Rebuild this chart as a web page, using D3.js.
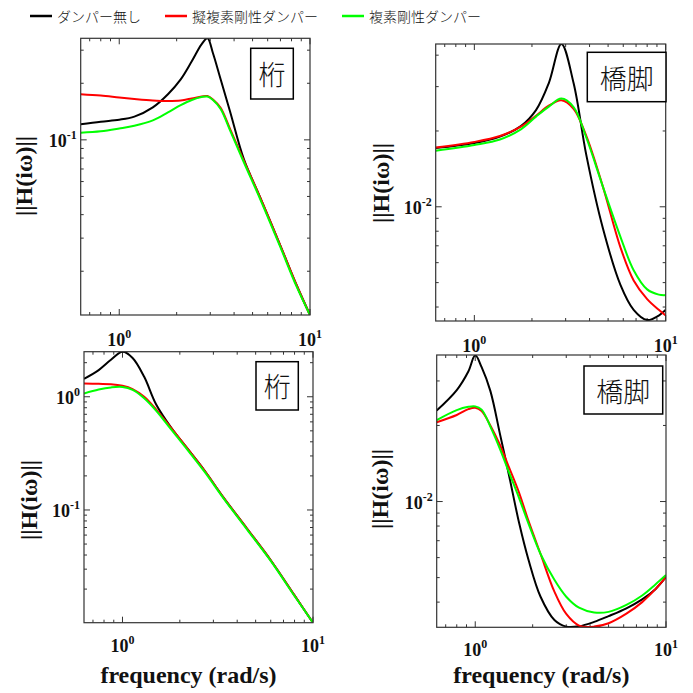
<!DOCTYPE html>
<html>
<head>
<meta charset="utf-8">
<script src="https://cdn.jsdelivr.net/npm/d3@7"></script>
<style>
body { margin: 0; background: #fff; }
svg { display: block; }
.tick-label { font-family: "Liberation Serif", "Times New Roman", serif; font-weight: bold; font-size: 18px; fill: #111; }
.axis-title { font-family: "Liberation Serif", "Times New Roman", serif; font-weight: bold; font-size: 24px; fill: #111; }
.legend-text { font-family: "Noto Sans CJK JP", sans-serif; font-weight: 300; font-size: 14px; fill: #111; }
.tag { font-family: "Noto Sans CJK JP", sans-serif; font-weight: 300; font-size: 27px; fill: #111; }
</style>
</head>
<body>
<svg id="chart" width="693" height="693"></svg>
<script>
// legend
var seriesNames = ["ダンパー無し", "擬複素剛性ダンパー", "複素剛性ダンパー"];
var seriesColors = ["#000000", "#ff0000", "#00ff00"];

// top left : 桁
var freqTL = [0.628, 0.8, 1.0, 1.2, 1.5, 1.8, 2.1, 2.4, 2.7, 2.9, 3.1, 3.4, 3.8, 4.5, 5.5, 7, 8.5, 10];
var tlBlack = [0.121, 0.125, 0.128, 0.133, 0.149, 0.175, 0.210, 0.262, 0.322, 0.347, 0.289, 0.21, 0.143, 0.079, 0.049, 0.0273, 0.0169, 0.0117];
var tlRed = [0.175, 0.172, 0.168, 0.165, 0.162, 0.161, 0.162, 0.166, 0.170, 0.171, 0.164, 0.148, 0.115, 0.0774, 0.0489, 0.0273, 0.0169, 0.0117];
var tlGreen = [0.109, 0.111, 0.115, 0.119, 0.127, 0.140, 0.153, 0.163, 0.169, 0.170, 0.163, 0.146, 0.113, 0.076, 0.048, 0.0268, 0.0166, 0.0117];

// top right : 橋脚
var freqTR = [0.628, 1.0, 1.36, 1.75, 2.1, 2.45, 2.85, 3.3, 3.85, 4.7, 5.8, 6.8, 8.0, 9.2, 10];
var trBlack = [0.0171, 0.0179, 0.0190, 0.0209, 0.0242, 0.031, 0.0443, 0.031, 0.016, 0.0082, 0.0049, 0.0039, 0.00355, 0.0037, 0.0039];
var trRed = [0.0172, 0.0181, 0.0191, 0.0208, 0.0230, 0.0252, 0.0265, 0.0245, 0.0191, 0.0120, 0.0069, 0.0051, 0.0043, 0.0039, 0.0037];
var trGreen = [0.0167, 0.0176, 0.0185, 0.0203, 0.0228, 0.0250, 0.0269, 0.0249, 0.0188, 0.0120, 0.0076, 0.0056, 0.0047, 0.00448, 0.00446];

// bottom left : 桁
var freqBL = [0.628, 0.75, 0.87, 1.0, 1.13, 1.3, 1.5, 1.8, 2.2, 2.7, 3.4, 4.5, 6, 8, 10];
var blBlack = [1.44, 1.72, 2.12, 2.5, 2.2, 1.5, 0.86, 0.535, 0.346, 0.222, 0.128, 0.0686, 0.036, 0.0176, 0.0101];
var blRed = [1.31, 1.30, 1.29, 1.25, 1.17, 1.0, 0.775, 0.53, 0.346, 0.222, 0.128, 0.0686, 0.036, 0.0176, 0.0101];
var blGreen = [1.07, 1.16, 1.21, 1.22, 1.15, 0.97, 0.755, 0.515, 0.338, 0.217, 0.126, 0.0675, 0.0355, 0.0174, 0.0101];

// bottom right : 橋脚
var freqBR = [0.628, 0.8, 0.92, 1.0, 1.08, 1.2, 1.35, 1.5, 1.7, 1.9, 2.2, 2.6, 3.0, 3.5, 4.2, 5.0, 6.2, 7.5, 8.8, 10];
var brBlack = [0.0229, 0.0276, 0.0327, 0.0379, 0.034, 0.0274, 0.0184, 0.0128, 0.0082, 0.0059, 0.0042, 0.0034, 0.0032, 0.00321, 0.00334, 0.00352, 0.00378, 0.0041, 0.0045, 0.00503];
var brRed = [0.0206, 0.0220, 0.0232, 0.0235, 0.0228, 0.0200, 0.0167, 0.0137, 0.0108, 0.0084, 0.0062, 0.0044, 0.00359, 0.00323, 0.0032, 0.0033, 0.0036, 0.0040, 0.0045, 0.00503];
var brGreen = [0.0210, 0.0230, 0.0237, 0.0238, 0.0231, 0.0198, 0.0161, 0.0131, 0.0103, 0.0082, 0.0062, 0.0049, 0.0042, 0.0038, 0.00364, 0.00366, 0.0039, 0.00425, 0.0047, 0.00512];

var xDomain = [0.628, 10];
var xTitle = "frequency (rad/s)";
var yTitle = "||H(iω)||";

var svg = d3.select("#chart");

var panels = [
	{ freq: freqTL, ys: [tlBlack, tlRed, tlGreen], yDomain: [0.0117, 0.347], tag: "桁",
	  l: 80.7, r: 310, t: 38.3, b: 315, tagBox: [250.7, 48.3, 42.6, 50.7], yTitleAt: [25, 176], xTitle: false },
	{ freq: freqTR, ys: [trBlack, trRed, trGreen], yDomain: [0.00352, 0.0443], tag: "橋脚",
	  l: 435.7, r: 665.7, t: 44, b: 321, tagBox: [587.3, 52.3, 78.7, 49.4], yTitleAt: [382, 183], xTitle: false },
	{ freq: freqBL, ys: [blBlack, blRed, blGreen], yDomain: [0.0101, 2.5], tag: "桁",
	  l: 84, r: 313, t: 351.7, b: 622.7, tagBox: [256, 361.7, 42.3, 48.3], yTitleAt: [30, 500], xTitle: true },
	{ freq: freqBR, ys: [brBlack, brRed, brGreen], yDomain: [0.00318, 0.038], tag: "橋脚",
	  l: 436.7, r: 666, t: 355, b: 627.3, tagBox: [584, 366, 78.7, 48], yTitleAt: [381, 489], xTitle: true }
];

function isMajor(v) {
	var e = Math.log10(v);
	return Math.abs(e - Math.round(e)) < 1e-6;
}

function powLabel(text, v) {
	text.append("tspan").text("10");
	text.append("tspan").attr("dy", -8).attr("font-size", 12).text(Math.round(Math.log10(v)));
}

var line;

panels.forEach(function (p, i) {
	var x = d3.scaleLog().domain(xDomain).range([p.l, p.r]);
	var y = d3.scaleLog().domain(p.yDomain).range([p.b, p.t]);
	var g = svg.append("g");
	var labelGap = p.xTitle ? 29 : 31;

	svg.append("clipPath").attr("id", "clip" + i)
		.append("rect").attr("x", p.l).attr("y", p.t)
		.attr("width", p.r - p.l).attr("height", p.b - p.t);

	// ticks on all four sides, pointing in
	x.ticks().forEach(function (v) {
		var len = isMajor(v) ? 6 : 3;
		var px = x(v);
		g.append("line").attr("x1", px).attr("x2", px).attr("y1", p.b).attr("y2", p.b - len)
			.attr("stroke", "#333");
		g.append("line").attr("x1", px).attr("x2", px).attr("y1", p.t).attr("y2", p.t + len)
			.attr("stroke", "#333");
		if (isMajor(v)) {
			var tx = g.append("text").attr("class", "tick-label")
				.attr("x", px).attr("y", p.b + labelGap).attr("text-anchor", "middle");
			powLabel(tx, v);
		}
	});
	y.ticks().forEach(function (v) {
		var len = isMajor(v) ? 6 : 3;
		var py = y(v);
		g.append("line").attr("x1", p.l).attr("x2", p.l + len).attr("y1", py).attr("y2", py)
			.attr("stroke", "#333");
		g.append("line").attr("x1", p.r).attr("x2", p.r - len).attr("y1", py).attr("y2", py)
			.attr("stroke", "#333");
		if (isMajor(v)) {
			var ty = g.append("text").attr("class", "tick-label")
				.attr("x", p.l - 4).attr("y", py + 7).attr("text-anchor", "end");
			powLabel(ty, v);
		}
	});

	line = d3.line()
		.x(function (d) { return x(d[0]); })
		.y(function (d) { return y(d[1]); })
		.curve(d3.curveCatmullRom.alpha(0.5));

	p.ys.forEach(function (vals, k) {
		var pts = p.freq.map(function (f, j) { return [f, vals[j]]; });
		g.append("path").datum(pts)
			.attr("clip-path", "url(#clip" + i + ")")
			.attr("d", line)
			.attr("fill", "none")
			.attr("stroke", seriesColors[k])
			.attr("stroke-width", 2);
	});

	// box
	g.append("rect").attr("x", p.l).attr("y", p.t)
		.attr("width", p.r - p.l).attr("height", p.b - p.t)
		.attr("fill", "none").attr("stroke", "#333").attr("stroke-width", 1.2);

	// tag box
	g.append("rect").attr("x", p.tagBox[0]).attr("y", p.tagBox[1])
		.attr("width", p.tagBox[2]).attr("height", p.tagBox[3])
		.attr("fill", "#fff").attr("stroke", "#000").attr("stroke-width", 1.5);
	g.append("text").attr("class", "tag")
		.attr("x", p.tagBox[0] + p.tagBox[2] / 2)
		.attr("y", p.tagBox[1] + p.tagBox[3] / 2)
		.attr("text-anchor", "middle").attr("dominant-baseline", "central")
		.text(p.tag);

	g.append("text").attr("class", "axis-title")
		.attr("transform", "translate(" + (p.yTitleAt[0] + 7) + "," + p.yTitleAt[1] + ") rotate(-90)")
		.attr("text-anchor", "middle")
		.text(yTitle);

	if (p.xTitle) {
		g.append("text").attr("class", "axis-title")
			.attr("x", (p.l + p.r) / 2 - 10).attr("y", 683)
			.attr("text-anchor", "middle")
			.text(xTitle);
	}
});

// legend
var legendX = [30, 165, 342];
seriesNames.forEach(function (name, k) {
	svg.append("line").attr("x1", legendX[k]).attr("x2", legendX[k] + 22)
		.attr("y1", 16).attr("y2", 16)
		.attr("stroke", seriesColors[k]).attr("stroke-width", 2.5);
	svg.append("text").attr("class", "legend-text")
		.attr("x", legendX[k] + 27).attr("y", 16)
		.attr("dominant-baseline", "central")
		.text(name);
});
</script>
</body>
</html>
